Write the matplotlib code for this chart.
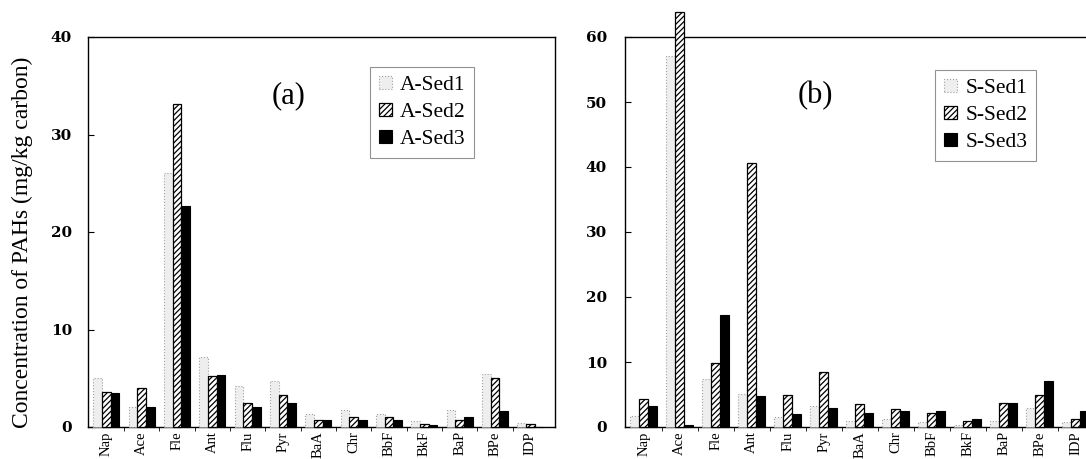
import matplotlib
matplotlib.use("Agg")
import matplotlib.pyplot as plt
import numpy as np

plt.rcParams['font.family'] = ['Liberation Serif', 'DejaVu Serif']
plt.rcParams['hatch.linewidth'] = 0.9

compounds = ['Nap', 'Ace', 'Fle', 'Ant', 'Flu', 'Pyr', 'BaA', 'Chr', 'BbF', 'BkF', 'BaP', 'BPe', 'IDP']

a_sed1 = [5.0, 2.1, 26.1, 7.2, 4.2, 4.7, 1.3, 1.7, 1.3, 0.6, 1.7, 5.4, 0.45]
a_sed2 = [3.6, 4.0, 33.1, 5.2, 2.5, 3.3, 0.7, 1.0, 1.0, 0.35, 0.7, 5.05, 0.35]
a_sed3 = [3.45, 2.1, 22.7, 5.3, 2.1, 2.5, 0.7, 0.7, 0.7, 0.2, 1.0, 1.65, 0.0]

s_sed1 = [1.7, 57.1, 7.4, 5.1, 1.5, 3.3, 1.0, 1.3, 0.8, 0.25, 1.0, 3.0, 0.8]
s_sed2 = [4.3, 63.8, 9.9, 40.6, 4.9, 8.5, 3.5, 2.8, 2.1, 0.9, 3.75, 4.9, 1.2]
s_sed3 = [3.3, 0.3, 17.2, 4.7, 2.0, 2.9, 2.15, 2.4, 2.4, 1.2, 3.75, 7.1, 2.4]

a_labels = ['A-Sed1', 'A-Sed2', 'A-Sed3']
s_labels = ['S-Sed1', 'S-Sed2', 'S-Sed3']

a_ticks = [0, 10, 20, 30, 40]
s_ticks = [0, 10, 20, 30, 40, 50, 60]

W, H = 1086, 459
fig = plt.figure(figsize=(W / 100, H / 100), dpi=100)

ax_a = fig.add_axes([88 / W, 1 - 427 / H, (555 - 88) / W, (427 - 37) / H])
ax_b = fig.add_axes([625 / W, 1 - 427 / H, (1093 - 625) / W, (427 - 37) / H])

styles = [
    dict(facecolor='#eeeeee', edgecolor='#a0a0a0', linewidth=0.8, linestyle=':'),
    dict(facecolor='white', edgecolor='black', linewidth=0.9, hatch='//////'),
    dict(facecolor='black', edgecolor='black', linewidth=0.8),
]

bw = 0.245

def draw(ax, series, labels, yticks, ymax, xlim, tag, tagx, legend_anchor, ypad):
    x = np.arange(len(compounds))
    for k, (vals, lab) in enumerate(zip(series, labels)):
        ax.bar(x + (k - 1) * bw, vals, width=bw, label=lab, clip_on=False,
               zorder=3, **styles[k])
    ax.set_xlim(*xlim)
    ax.set_ylim(0, ymax)
    ax.set_yticks(yticks)
    ax.set_yticklabels([str(t) for t in yticks], fontsize=11, fontweight='bold',
                       family=['DejaVu Serif'])
    ax.tick_params(axis='y', direction='in', length=4, width=0.8, pad=ypad)
    ax.set_xticks(x)
    ax.set_xticklabels(compounds, rotation=90, fontsize=10.5)
    ax.tick_params(axis='x', length=0, pad=3)
    ax.set_xticks(x[:-1] + 0.5, minor=True)
    ax.tick_params(axis='x', which='minor', direction='out', length=3, width=0.6)
    for s in ax.spines.values():
        s.set_linewidth(1.0)
    ax.text(tagx, 0.85, tag, transform=ax.transAxes, fontsize=22,
            ha='center', va='center')
    leg = ax.legend(loc='upper left', bbox_to_anchor=legend_anchor, fontsize=15.5,
                    frameon=True, fancybox=False, handlelength=0.6, handleheight=0.6,
                    handletextpad=0.4, borderpad=0.4, labelspacing=0.35,
                    borderaxespad=0)
    leg.get_frame().set_edgecolor('#777777')
    leg.get_frame().set_linewidth(0.8)

draw(ax_a, [a_sed1, a_sed2, a_sed3], a_labels, a_ticks, 40, (-0.52, 12.7), '(a)',
     (289 - 88) / (555 - 88), ((370 - 88) / 467, (427 - 67) / 390), 11.5)
draw(ax_b, [s_sed1, s_sed2, s_sed3], s_labels, s_ticks, 60, (-0.52, 12.48), '(b)',
     (815 - 625) / 468, ((935 - 625) / 468, (427 - 70) / 390), 13)
ax_b.spines['right'].set_visible(False)

fig.text(22 / W, 1 - 242 / H, 'Concentration of PAHs (mg/kg carbon)', rotation=90,
         fontsize=17, ha='center', va='center')

fig.savefig('out.png', dpi=100)
